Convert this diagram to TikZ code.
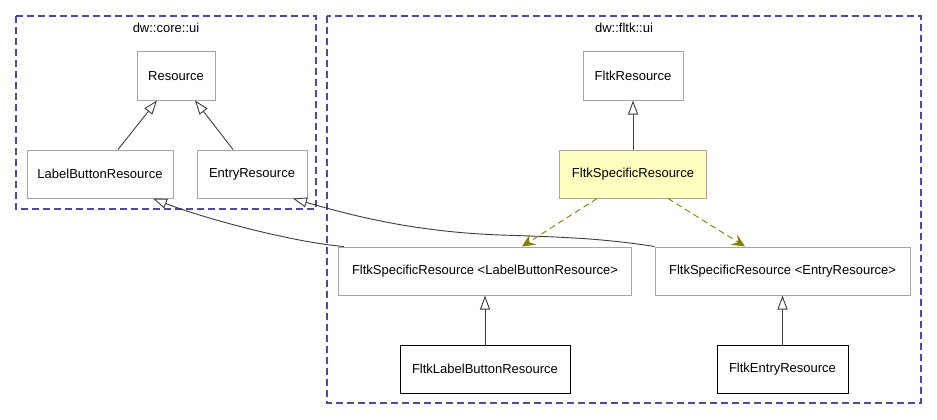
\documentclass[tikz,border=0pt]{standalone}
\usepackage{fontspec}
\setmainfont{Liberation Sans}
\usetikzlibrary{arrows.meta}
\definecolor{nsblue}{RGB}{75,75,165}
\definecolor{boxgray}{RGB}{165,165,165}
\definecolor{edgegray}{RGB}{60,60,60}
\definecolor{focusfill}{RGB}{255,255,192}
\definecolor{useolive}{RGB}{128,128,0}
\begin{document}
\begin{tikzpicture}[x=1pt,y=-1pt,
            every node/.style={font=\fontsize{13}{15}\selectfont, inner sep=0pt},
            ns/.style={draw=nsblue, line width=1.1pt, dash pattern=on 7pt off 4pt},
            cls/.style={draw=boxgray, fill=white, line width=1pt, minimum height=48pt},
            clsfocus/.style={cls, fill=focusfill},
            clsleaf/.style={cls, draw=black},
            inherit/.style={draw=edgegray, line width=0.9pt, -{Triangle[length=14pt,width=10pt,fill=white]}},
            uses/.style={draw=useolive, line width=0.9pt, dash pattern=on 6pt off 4pt,
                -{Stealth[length=13pt,width=12pt,inset=5pt]}}]
            \useasboundingbox (0,0) rectangle (937,420);
            \draw[ns] (16,16) rectangle (316,209);
            \draw[ns] (327,16) rectangle (921,403);
            \node (coreui) at (166,28) {dw::core::ui};
            \node (fltkui) at (624,28) {dw::fltk::ui};

            \node[cls, minimum width=78pt] (res) at (176,76) {Resource};
            \node[cls, minimum width=146pt] (lbres) at (100,174) {LabelButtonResource};
            \node[cls, minimum width=110pt] (entres) at (252,174) {EntryResource};

            \node[cls, minimum width=100pt] (fres) at (633,76) {FltkResource};
            \node[clsfocus, minimum width=147pt] (fsres) at (633,174) {FltkSpecificResource};
            \node[cls, minimum width=293pt] (fslb) at (485,271) {FltkSpecificResource <LabelButtonResource>};
            \node[cls, minimum width=255pt] (fsent) at (782.5,271) {FltkSpecificResource <EntryResource>};
            \node[clsleaf, minimum width=170pt] (flb) at (485,369) {FltkLabelButtonResource};
            \node[clsleaf, minimum width=131pt] (fent) at (782.5,369) {FltkEntryResource};

            \draw[inherit] ([xshift=18pt]lbres.north) -- ([xshift=-19pt]res.south);
            \draw[inherit] ([xshift=-19pt]entres.north) -- ([xshift=19pt]res.south);
            \draw[inherit] (fsres.north) -- (fres.south);
            \draw[inherit] (flb.north) -- (fslb.south);
            \draw[inherit] (fent.north) -- (fsent.south);
            \draw[inherit] ([xshift=6pt]fslb.north west) .. controls (290,242) and (200,217) .. ([xshift=53pt]lbres.south);
            \draw[inherit] (fsent.north west) .. controls (600,238) and (560,237) .. (500,235)
                .. controls (420,232) and (360,218) .. ([xshift=41pt]entres.south);
            \draw[uses] ([xshift=-36pt]fsres.south) -- ([xshift=37pt]fslb.north);
            \draw[uses] ([xshift=35pt]fsres.south) -- ([xshift=-37.5pt]fsent.north);
        \end{tikzpicture}
\end{document}
